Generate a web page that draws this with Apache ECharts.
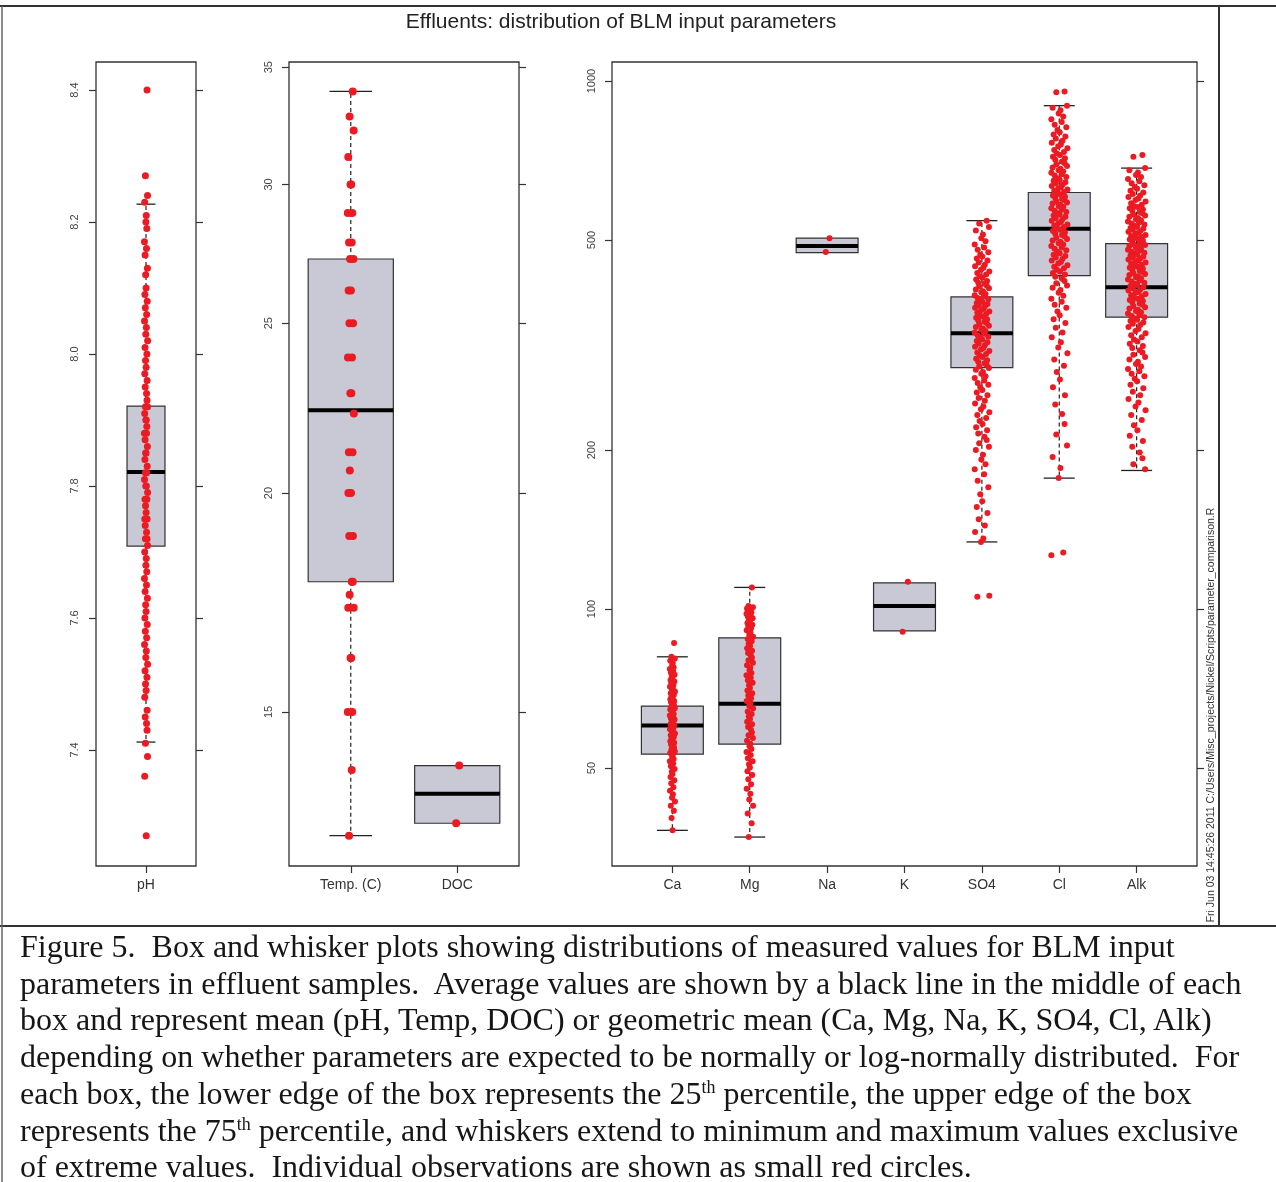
<!DOCTYPE html>
<html>
<head>
<meta charset="utf-8">
<title>Effluents: distribution of BLM input parameters</title>
<script src="https://cdn.jsdelivr.net/npm/echarts@6/dist/echarts.min.js"></script>
<style>
  body { margin: 0; background: #fff; }
  #wrap { position: relative; width: 1276px; height: 1182px; overflow: hidden; }
  #main { position: absolute; left: 0; top: 0; width: 1276px; height: 1182px; }
  #caption {
    position: absolute; left: 20px; top: 928px;
    font-family: 'Liberation Serif', 'Times New Roman', serif;
    font-size: 32px; line-height: 36.7px; color: #161616; white-space: pre;
  }
  #caption sup { font-size: 18px; line-height: 0; vertical-align: baseline; position: relative; top: -11px; }
</style>
</head>
<body>
<div id="wrap">
  <div id="main"></div>
  <div id="caption">Figure 5.  Box and whisker plots showing distributions of measured values for BLM input
parameters in effluent samples.  Average values are shown by a black line in the middle of each
box and represent mean (pH, Temp, DOC) or geometric mean (Ca, Mg, Na, K, SO4, Cl, Alk)
depending on whether parameters are expected to be normally or log-normally distributed.  For
each box, the lower edge of the box represents the 25<sup>th</sup> percentile, the upper edge of the box
represents the 75<sup>th</sup> percentile, and whiskers extend to minimum and maximum values exclusive
of extreme values.  Individual observations are shown as small red circles.</div>
</div>
<script>
// categories per panel
const phCats = ['pH'];
const tempCats = ['Temp. (C)', 'DOC'];
const ionCats = ['Ca', 'Mg', 'Na', 'K', 'SO4', 'Cl', 'Alk'];

// box stats: [q1, q3, mean, whisker low, whisker high]
const phBoxes = [[7.709, 7.921, 7.821, 7.412, 8.227]];
const tempBoxes = [
	[17.8, 27.2, 22.3, 12.75, 33.9],
	[12.96, 13.98, 13.47, 12.96, 13.98]
];
const ionBoxes = [
	[53.1, 65.5, 60.2, 38.1, 81.2],
	[55.5, 88.2, 66.2, 37.0, 109.9],
	[473, 504, 487, 473, 504],
	[90.9, 112.1, 101.3, 90.9, 112.1],
	[286.5, 390, 333, 134, 544],
	[428, 615, 525, 177, 898],
	[357, 492, 407, 183, 684]
];

// axis ticks
const phTicks = [7.4, 7.6, 7.8, 8.0, 8.2, 8.4];
const tempTicks = [15, 20, 25, 30, 35];
const ionTicks = [50, 100, 200, 500, 1000];

// observations
const phPoints = [8.40, 8.27, 8.24, 8.23, 8.21, 8.20, 8.19, 8.17, 8.16, 8.15, 8.13, 8.12, 8.10, 8.09, 8.08, 8.07,
	8.06, 8.05, 8.04, 8.03, 8.02, 8.01, 8.00, 7.99, 7.98, 7.97, 7.96, 7.95, 7.94, 7.93, 7.92, 7.92, 7.91, 7.90,
	7.90, 7.89, 7.88, 7.88, 7.87, 7.86, 7.85, 7.85, 7.84, 7.83, 7.82, 7.82, 7.81, 7.80, 7.80, 7.79, 7.78, 7.78,
	7.77, 7.76, 7.75, 7.75, 7.74, 7.73, 7.72, 7.72, 7.71, 7.70, 7.69, 7.68, 7.67, 7.66, 7.65, 7.64, 7.63, 7.62,
	7.61, 7.60, 7.59, 7.58, 7.57, 7.56, 7.55, 7.54, 7.53, 7.52, 7.51, 7.50, 7.49, 7.48, 7.46, 7.45, 7.44, 7.43,
	7.41, 7.39, 7.36, 7.27];
const tempPoints = [33.9, 32.8, 32.2, 31.1, 30.0, 30.0, 28.9, 28.9, 27.8, 27.8, 27.2, 27.2, 26.1, 26.1, 25.0,
	25.0, 23.9, 23.9, 22.8, 22.8, 22.2, 21.1, 21.1, 20.6, 20.0, 20.0, 18.9, 18.9, 17.8, 17.8, 17.5, 17.2, 17.2,
	16.1, 16.1, 15.0, 15.0, 13.9, 12.75];
const docPoints = [13.98, 12.96];
const caPoints = [86.2, 81.2, 80.6, 79.8, 79.1, 78.3, 77.6, 77.0, 76.4, 75.8, 75.1, 74.6, 74.0, 73.4, 72.9,
	72.3, 71.8, 71.3, 70.8, 70.3, 69.8, 69.3, 68.8, 68.4, 67.9, 67.5, 67.0, 66.6, 66.1, 65.7, 65.3, 64.9, 64.5,
	64.1, 63.7, 63.3, 62.9, 62.5, 62.1, 61.8, 61.4, 61.0, 60.6, 60.3, 59.9, 59.5, 59.2, 58.8, 58.4, 58.1, 57.7,
	57.3, 56.9, 56.6, 56.2, 55.8, 55.4, 55.0, 54.6, 54.2, 53.8, 53.4, 53.0, 52.5, 52.0, 51.5, 51.0, 50.4, 49.8,
	49.2, 48.7, 48.1, 47.4, 46.8, 46.0, 45.3, 44.6, 43.9, 43.2, 42.4, 41.5, 40.2, 38.1];
const mgPoints = [109.9, 101.3, 100.8, 100.2, 99.7, 99.1, 98.6, 98.0, 97.4, 96.8, 96.1, 95.5, 94.8, 94.1, 93.4,
	92.7, 92.0, 91.2, 90.3, 89.5, 88.6, 87.8, 86.9, 86.0, 85.1, 84.3, 83.4, 82.6, 81.7, 80.9, 80.0, 79.1, 78.3,
	77.4, 76.6, 75.7, 74.9, 74.1, 73.3, 72.5, 71.7, 70.9, 70.1, 69.3, 68.6, 67.8, 67.0, 66.3, 65.5, 64.8, 64.0,
	63.3, 62.6, 61.9, 61.2, 60.5, 59.8, 59.1, 58.4, 57.7, 57.0, 56.3, 55.6, 55.0, 54.3, 53.6, 52.9, 52.2, 51.5,
	50.8, 50.1, 49.3, 48.5, 47.6, 46.6, 45.7, 44.7, 43.6, 42.4, 41.0, 39.3, 37.0];
const naPoints = [503.7, 474.5];
const kPoints = [112.6, 90.6];
const so4Points = [544, 537, 529, 521, 512, 504, 497, 490, 484, 479, 474, 469, 465, 461, 457, 453, 449, 446,
	443, 439, 436, 433, 430, 427, 424, 421, 418, 415, 413, 410, 408, 405, 403, 400, 398, 395, 393, 391, 388, 386,
	384, 382, 380, 378, 376, 374, 372, 370, 368, 366, 364, 362, 360, 358, 356, 354, 352, 350, 348, 346, 344, 342,
	340, 338, 336, 334, 332, 330, 328, 326, 324, 322, 320, 318, 316, 314, 312, 310, 308, 306, 304, 302, 300, 298,
	296, 294, 292, 290, 288, 286, 284, 281, 279, 276, 274, 271, 268, 266, 263, 260, 257, 254, 251, 248, 245, 242,
	239, 236, 233, 230, 227, 224, 221, 218, 215, 212, 209, 206, 203, 200, 196, 192, 188, 184, 180, 175, 170, 165,
	160, 156, 152, 148, 144, 140, 136, 134, 106, 105.5];
const clPoints = [955, 952, 898, 890, 880, 868, 857, 846, 836, 826, 817, 808, 800, 792, 785, 778, 771, 764, 758,
	752, 746, 740, 734, 729, 724, 719, 714, 709, 704, 699, 695, 690, 686, 682, 678, 674, 670, 666, 662, 658, 654,
	650, 647, 643, 640, 636, 633, 629, 626, 623, 620, 616, 613, 610, 607, 604, 601, 598, 595, 592, 589, 586, 583,
	580, 577, 574, 571, 568, 565, 562, 559, 556, 553, 550, 547, 544, 541, 538, 535, 532, 529, 526, 523, 520, 517,
	514, 511, 508, 505, 502, 499, 496, 493, 490, 487, 484, 481, 478, 475, 472, 469, 466, 463, 460, 457, 454, 451,
	448, 445, 442, 439, 436, 433, 430, 426, 422, 418, 414, 410, 406, 402, 397, 392, 387, 382, 377, 372, 366, 360,
	354, 348, 341, 334, 327, 320, 313, 305, 297, 289, 281, 272, 263, 254, 244, 234, 224, 214, 204, 194, 185, 177,
	128, 126.5];
const alkPoints = [724, 719, 684, 678, 671, 664, 658, 652, 646, 640, 635, 630, 625, 620, 615, 611, 607, 603, 599,
	595, 591, 587, 583, 580, 577, 574, 571, 568, 565, 562, 559, 556, 553, 550, 547, 545, 542, 540, 537, 535, 532,
	530, 527, 525, 523, 520, 518, 516, 514, 511, 509, 507, 505, 503, 501, 499, 497, 495, 493, 491, 489, 487, 485,
	483, 481, 479, 477, 475, 473, 471, 469, 467, 465, 463, 461, 459, 457, 455, 453, 451, 449, 447, 445, 443, 441,
	439, 437, 435, 433, 431, 429, 427, 425, 423, 421, 419, 417, 415, 413, 411, 409, 407, 405, 403, 401, 399, 397,
	395, 393, 391, 389, 387, 385, 383, 381, 379, 377, 375, 373, 371, 369, 367, 365, 363, 361, 359, 357, 355, 353,
	351, 349, 347, 345, 342, 339, 336, 333, 330, 327, 324, 321, 318, 315, 312, 309, 306, 303, 300, 297, 294, 291,
	288, 285, 282, 279, 276, 273, 270, 266, 262, 258, 254, 250, 246, 242, 238, 233, 228, 223, 218, 213, 208, 203,
	198, 193, 188, 184];

// fixed horizontal spread pattern for the strip points
const JIT = [0.62, -0.35, 0.91, -0.78, 0.14, -0.07, 0.47, -0.93, 0.29, -0.54, 0.83, -0.21, 0.05, -0.66, 0.72,
	-0.41, 0.38, -0.88, 0.19, -0.12, 0.96, -0.59, 0.55, -0.29, 0.08, -0.74, 0.67, -0.47, 0.33];

const lin = v => v;
const lg = v => Math.log10(v);

function boxData(stats, tf) {
	return stats.map((s, i) => [i + 1, tf(s[0]), tf(s[1]), tf(s[2]), tf(s[3]), tf(s[4])]);
}

function pointData(vals, cx, amt, tf) {
	return vals.map((v, i) => [cx + JIT[i % JIT.length] * amt, tf(v)]);
}

function boxRenderer(hw) {
	return function (params, api) {
		const x = api.value(0);
		const q1 = api.value(1), q3 = api.value(2), mean = api.value(3), lo = api.value(4), hi = api.value(5);
		const a = api.coord([x - hw, q3]);
		const b = api.coord([x + hw, q1]);
		const dash = { stroke: '#222', lineWidth: 1.2, lineDash: [4, 3] };
		const solid = { stroke: '#222', lineWidth: 1.3 };
		const children = [];
		const whisker = function (edge, end) {
			const p1 = api.coord([x, edge]), p2 = api.coord([x, end]);
			const c1 = api.coord([x - hw / 2, end]), c2 = api.coord([x + hw / 2, end]);
			children.push({ type: 'line', shape: { x1: p1[0], y1: p1[1], x2: p2[0], y2: p2[1] }, style: dash });
			children.push({ type: 'line', shape: { x1: c1[0], y1: c1[1], x2: c2[0], y2: c2[1] }, style: solid });
		};
		if (hi > q3) whisker(q3, hi);
		if (lo < q1) whisker(q1, lo);
		children.push({
			type: 'rect',
			shape: { x: a[0], y: a[1], width: b[0] - a[0], height: b[1] - a[1] },
			style: { fill: '#c8c9d4', stroke: '#333', lineWidth: 1.2 }
		});
		const m1 = api.coord([x - hw, mean]), m2 = api.coord([x + hw, mean]);
		children.push({ type: 'line', shape: { x1: m1[0], y1: m1[1], x2: m2[0], y2: m2[1] }, style: { stroke: '#000', lineWidth: 4 } });
		return { type: 'group', children: children };
	};
}

function leftAxis(grid, min, max, ticks, fmt, margin) {
	return {
		type: 'value', gridIndex: grid, min: min, max: max,
		splitLine: { show: false }, axisLine: { show: false },
		axisTick: { show: true, length: 7, customValues: ticks, lineStyle: { color: '#333', width: 1.2 } },
		axisLabel: { customValues: ticks, formatter: fmt, rotate: 90, fontSize: 11, color: '#444', margin: margin, fontFamily: 'Arial' }
	};
}

function rightAxis(grid, min, max, ticks) {
	return {
		type: 'value', gridIndex: grid, position: 'right', min: min, max: max,
		splitLine: { show: false }, axisLine: { show: false },
		axisTick: { show: true, length: 7, customValues: ticks, lineStyle: { color: '#333', width: 1.2 } },
		axisLabel: { show: false }
	};
}

function catAxis(grid, min, max, cats) {
	const pos = cats.map((c, i) => i + 1);
	return {
		type: 'value', gridIndex: grid, min: min, max: max,
		splitLine: { show: false }, axisLine: { show: false },
		axisTick: { show: true, length: 7, customValues: pos, lineStyle: { color: '#333', width: 1.2 } },
		axisLabel: {
			customValues: pos, formatter: v => cats[Math.round(v) - 1],
			fontSize: 14, color: '#333', margin: 12, fontFamily: 'Arial'
		}
	};
}

const logFmt = v => String(Math.round(Math.pow(10, v)));
const tempLo = 1.0882, tempHi = 1.5470;
const ionLo = 1.5134, ionHi = 3.036;

const ionPointData = [].concat(
	pointData(caPoints, 1, 0.035, lg),
	pointData(mgPoints, 2, 0.045, lg),
	pointData(naPoints, 3, 0.05, lg),
	pointData(kPoints, 4, 0.07, lg),
	pointData(so4Points, 5, 0.1, lg),
	pointData(clPoints, 6, 0.11, lg),
	pointData(alkPoints, 7, 0.12, lg)
);
const tempPointData = [].concat(
	pointData(tempPoints, 1, 0.03, lg),
	pointData(docPoints, 2, 0.03, lg)
);

const pointStyle = { color: '#ec1a22', opacity: 1 };

let chart = echarts.init(document.getElementById('main'));

const option = {
	animation: false,
	backgroundColor: '#fff',
	grid: [
		{ left: 96, top: 62, width: 100, height: 804, show: true, borderColor: '#333', borderWidth: 1.3 },
		{ left: 289, top: 62, width: 230, height: 804, show: true, borderColor: '#333', borderWidth: 1.3 },
		{ left: 612, top: 62, width: 585, height: 804, show: true, borderColor: '#333', borderWidth: 1.3 }
	],
	xAxis: [
		catAxis(0, 0.46, 1.54, phCats),
		catAxis(1, 0.42, 2.58, tempCats),
		catAxis(2, 0.22, 7.78, ionCats)
	],
	yAxis: [
		leftAxis(0, 7.2242, 8.4424, phTicks, v => v.toFixed(1), 16),
		rightAxis(0, 7.2242, 8.4424, phTicks),
		leftAxis(1, tempLo, tempHi, tempTicks.map(lg), logFmt, 15),
		rightAxis(1, tempLo, tempHi, tempTicks.map(lg)),
		leftAxis(2, ionLo, ionHi, ionTicks.map(lg), logFmt, 15),
		rightAxis(2, ionLo, ionHi, ionTicks.map(lg))
	],
	series: [
		{
			type: 'custom', xAxisIndex: 0, yAxisIndex: 0, silent: true,
			encode: { x: 0, y: [1, 2, 3, 4, 5] },
			renderItem: boxRenderer(0.205), data: boxData(phBoxes, lin)
		},
		{
			type: 'scatter', xAxisIndex: 0, yAxisIndex: 0, silent: true, z: 5,
			symbolSize: 7, itemStyle: pointStyle, data: pointData(phPoints, 1, 0.018, lin)
		},
		{
			type: 'custom', xAxisIndex: 1, yAxisIndex: 2, silent: true,
			encode: { x: 0, y: [1, 2, 3, 4, 5] },
			renderItem: boxRenderer(0.4), data: boxData(tempBoxes, lg)
		},
		{
			type: 'scatter', xAxisIndex: 1, yAxisIndex: 2, silent: true, z: 5,
			symbolSize: 8, itemStyle: pointStyle, data: tempPointData
		},
		{
			type: 'custom', xAxisIndex: 2, yAxisIndex: 4, silent: true,
			encode: { x: 0, y: [1, 2, 3, 4, 5] },
			renderItem: boxRenderer(0.4), data: boxData(ionBoxes, lg)
		},
		{
			type: 'scatter', xAxisIndex: 2, yAxisIndex: 4, silent: true, z: 5,
			symbolSize: 6, itemStyle: pointStyle, data: ionPointData
		}
	],
	graphic: [
		{ type: 'line', silent: true, shape: { x1: 0, y1: 6, x2: 1276, y2: 6 }, style: { stroke: '#333', lineWidth: 2 } },
		{ type: 'line', silent: true, shape: { x1: 1219, y1: 6, x2: 1219, y2: 926 }, style: { stroke: '#333', lineWidth: 2 } },
		{ type: 'line', silent: true, shape: { x1: 0, y1: 926, x2: 1276, y2: 926 }, style: { stroke: '#333', lineWidth: 2 } },
		{ type: 'line', silent: true, shape: { x1: 2, y1: 6, x2: 2, y2: 1182 }, style: { stroke: '#666', lineWidth: 1.5 } },
		{
			type: 'text', silent: true, x: 621, y: 22,
			style: {
				text: 'Effluents: distribution of BLM input parameters',
				fontSize: 21, fontFamily: 'Arial', fill: '#222',
				align: 'center', verticalAlign: 'middle', textAlign: 'center', textVerticalAlign: 'middle'
			}
		},
		{
			type: 'text', silent: true, x: 1211, y: 715, rotation: Math.PI / 2,
			style: {
				text: 'Fri Jun 03 14:45:26 2011 C:/Users/Misc_projects/Nickel/Scripts/parameter_comparison.R',
				fontSize: 10.5, fontFamily: 'Arial', fill: '#333',
				align: 'center', verticalAlign: 'middle', textAlign: 'center', textVerticalAlign: 'middle'
			}
		}
	]
};

chart.setOption(option);
</script>
</body>
</html>
